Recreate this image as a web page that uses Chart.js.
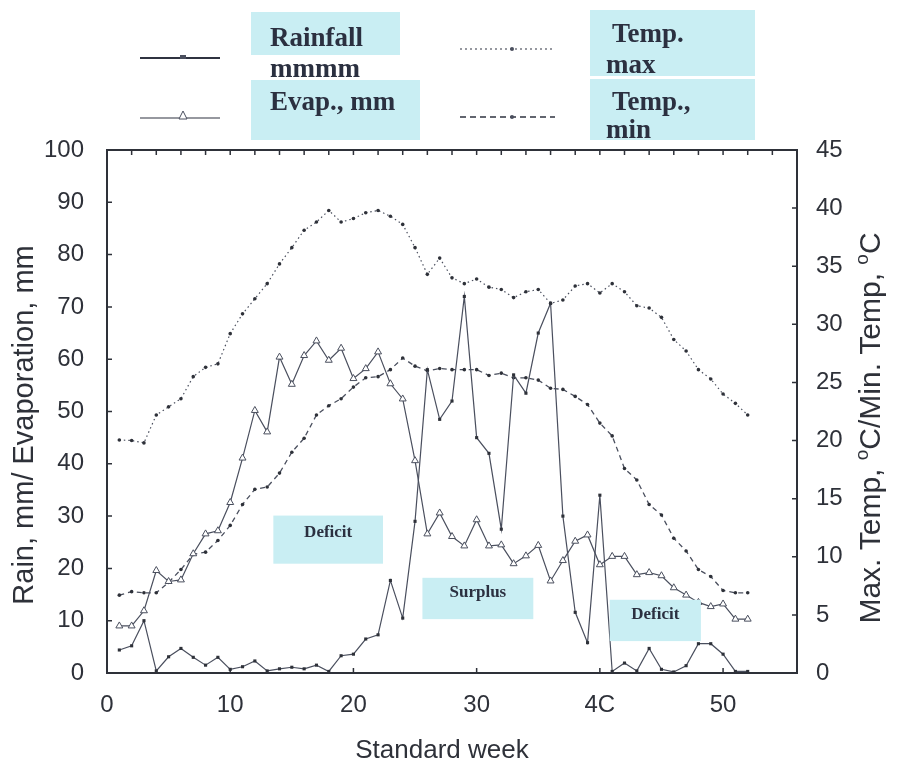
<!DOCTYPE html>
<html>
<head>
<meta charset="utf-8">
<script src="https://cdn.jsdelivr.net/npm/chart.js@4/dist/chart.umd.min.js"></script>
<style>
  body { margin: 0; background: #fff; }
  #wrap { width: 897px; height: 763px; }
</style>
</head>
<body>
<div id="wrap"><canvas id="weekChart" width="897" height="763"></canvas></div>
<script>
// standard weeks 1..52
const weeks = [1,2,3,4,5,6,7,8,9,10,11,12,13,14,15,16,17,18,19,20,21,22,23,24,25,26,
               27,28,29,30,31,32,33,34,35,36,37,38,39,40,41,42,43,44,45,46,47,48,49,50,51,52];

const rainfall = [4.4,5.2,10.0,0.4,3.1,4.7,3.0,1.5,3.0,0.7, 1.2,2.3,0.4,0.8,1.1,0.8,1.5,0.3,3.3,3.6,
                  6.5,7.3,17.7,10.5,29.0,58.0,48.5,52.0,72.0,45.0, 42.0,27.5,57.0,53.5,65.0,70.7,30.0,11.6,5.8,34.0,
                  0.3,1.9,0.4,4.7,0.7,0.2,1.4,5.6,5.6,3.6, 0.3,0.3];

const evaporation = [9.0,9.0,11.9,19.6,17.5,17.8,22.8,26.6,27.2,32.6, 41.1,50.2,46.1,60.4,55.2,60.7,63.5,59.8,62.1,56.3,
                     58.2,61.4,55.3,52.4,40.6,26.6,30.6,26.1,24.3,29.3, 24.3,24.5,20.9,22.4,24.4,17.6,21.5,25.2,26.4,20.7,
                     22.3,22.3,18.8,19.2,18.6,16.3,14.9,13.5,12.7,13.2, 10.3,10.3];

const tempMax = [20.05,20.0,19.8,22.2,22.9,23.6,25.5,26.3,26.6,29.2, 30.9,32.2,33.5,35.2,36.6,38.1,38.8,39.8,38.8,39.1,
                 39.6,39.8,39.3,38.6,36.6,34.3,35.7,34.0,33.5,33.9, 33.2,33.0,32.3,32.8,33.0,31.8,32.1,33.3,33.5,32.7,
                 33.5,32.8,31.6,31.4,30.6,28.7,27.7,26.1,25.3,24.0, 23.2,22.2];

const tempMin = [6.7,7.0,6.9,6.9,7.8,8.9,10.2,10.4,11.4,12.7, 14.5,15.8,16.0,17.2,19.0,20.2,22.2,23.0,23.6,24.6,
                 25.4,25.5,26.1,27.1,26.4,26.0,26.2,26.1,26.1,26.1, 25.6,25.8,25.4,25.4,25.2,24.5,24.4,23.8,23.1,21.5,
                 20.4,17.6,16.6,14.5,13.6,11.6,10.5,8.9,8.3,7.1, 6.9,6.9];

// x tick labels as printed (the scan shows "4C" for 40)
const xTickValues = [0, 10, 20, 30, 40, 50];
const xTickLabels = ['0', '10', '20', '30', '4C', '50'];

const legendNames = [['Rainfall', 'mmmm'], ['Evap., mm'], ['Temp.', 'max'], ['Temp.,', 'min']];
const noteLabels = ['Deficit', 'Surplus', 'Deficit'];
const xTitle = 'Standard week';
const yTitle = 'Rain, mm/ Evaporation, mm';
// right title pieces: [text, superscript?]
const y2Title = [['Max. Temp, ', false], ['o', true], ['C/Min. Temp, ', false], ['o', true], ['C', false]];

const ink = '#4a4f5e';
const axisInk = '#2e3139';
const boxFill = '#c9eef3';
const sans = '"Liberation Sans", Arial, sans-serif';
const tickFont = { family: sans, size: 24 };

const toPoints = arr => weeks.map((w, i) => ({ x: w, y: arr[i] }));

function drawMarker(ctx, kind, x, y) {
    ctx.save();
    ctx.fillStyle = ink;
    ctx.strokeStyle = ink;
    ctx.lineWidth = 1;
    if (kind === 'rect') {
        ctx.fillRect(x - 3, y - 2, 6, 4);
    } else if (kind === 'tri') {
        ctx.fillStyle = '#fff';
        ctx.beginPath();
        ctx.moveTo(x, y - 5);
        ctx.lineTo(x + 4, y + 3);
        ctx.lineTo(x - 4, y + 3);
        ctx.closePath();
        ctx.fill();
        ctx.stroke();
    } else {
        ctx.beginPath();
        ctx.arc(x, y, 2, 0, Math.PI * 2);
        ctx.fill();
    }
    ctx.restore();
}

const framePlugin = {
    id: 'frame',
    afterDatasetsDraw(chart) {
        const { ctx, chartArea: a, scales } = chart;
        const xs = scales.x, ys = scales.y;

        // annotation boxes (in week / left-axis units)
        const notes = [
            { text: noteLabels[0], x0: 13.5, x1: 22.4, y0: 30.1, y1: 20.9 },
            { text: noteLabels[1], x0: 25.6, x1: 34.6, y0: 18.2, y1: 10.3 },
            { text: noteLabels[2], x0: 40.8, x1: 48.2, y0: 14.0, y1: 6.1 }
        ];
        ctx.save();
        notes.forEach(n => {
            const l = xs.getPixelForValue(n.x0), r = xs.getPixelForValue(n.x1);
            const t = ys.getPixelForValue(n.y0), b = ys.getPixelForValue(n.y1);
            ctx.fillStyle = boxFill;
            ctx.fillRect(l, t, r - l, b - t);
            ctx.fillStyle = '#2b3040';
            ctx.font = 'bold 17px "Liberation Serif", "Times New Roman", serif';
            ctx.textAlign = 'center';
            ctx.textBaseline = 'middle';
            ctx.fillText(n.text, (l + r) / 2, t + (b - t) * 0.36);
        });
        ctx.restore();

        // frame and inward ticks
        ctx.save();
        ctx.strokeStyle = axisInk;
        ctx.lineWidth = 2;
        ctx.strokeRect(a.left, a.top, a.right - a.left, a.bottom - a.top);
        ctx.lineWidth = 1.5;
        ctx.beginPath();
        for (let v = 10; v < 100; v += 10) {
            const y = ys.getPixelForValue(v);
            ctx.moveTo(a.left, y); ctx.lineTo(a.left + 5, y);
        }
        for (let v = 5; v < 45; v += 5) {
            const y = scales.y2.getPixelForValue(v);
            ctx.moveTo(a.right, y); ctx.lineTo(a.right - 5, y);
        }
        for (let w = 10; w <= 50; w += 10) {
            const x = xs.getPixelForValue(w);
            ctx.moveTo(x, a.bottom); ctx.lineTo(x, a.bottom - 5);
        }
        for (let w = 2; w < 56; w += 2) {
            const x = xs.getPixelForValue(w);
            ctx.moveTo(x, a.top); ctx.lineTo(x, a.top + 5);
        }
        ctx.stroke();
        ctx.restore();
    },
    afterDraw(chart) {
        const { ctx } = chart;
        ctx.save();

        // axis titles
        ctx.fillStyle = axisInk;
        ctx.textBaseline = 'alphabetic';
        ctx.font = '26px ' + sans;
        ctx.textAlign = 'center';
        ctx.fillText(xTitle, 442, 758);

        ctx.save();
        ctx.font = '29px ' + sans;
        ctx.translate(33, 425);
        ctx.rotate(-Math.PI / 2);
        ctx.fillText(yTitle, 0, 0);
        ctx.restore();

        ctx.save();
        ctx.textAlign = 'left';
        const big = '30px ' + sans, small = '19px ' + sans;
        let total = 0;
        y2Title.forEach(([t, sup]) => { ctx.font = sup ? small : big; total += ctx.measureText(t).width; });
        ctx.translate(880, 428);
        ctx.rotate(-Math.PI / 2);
        let px = -total / 2;
        y2Title.forEach(([t, sup]) => {
            ctx.font = sup ? small : big;
            ctx.fillText(t, px, sup ? -12 : 0);
            px += ctx.measureText(t).width;
        });
        ctx.restore();

        // legend boxes
        ctx.fillStyle = boxFill;
        ctx.fillRect(251, 12, 149, 43);
        ctx.fillRect(251, 80, 169, 60);
        ctx.fillRect(590, 10, 165, 66);
        ctx.fillRect(590, 79, 165, 61);

        ctx.fillStyle = '#2b3040';
        ctx.font = 'bold 27px "Liberation Serif", "Times New Roman", serif';
        ctx.textBaseline = 'alphabetic';
        ctx.textAlign = 'left';
        ctx.fillText(legendNames[0][0], 270, 46);
        ctx.fillText(legendNames[0][1], 270, 77);
        ctx.fillText(legendNames[1][0], 270, 110);
        ctx.fillText(legendNames[2][0], 612, 42);
        ctx.fillText(legendNames[2][1], 606, 73);
        ctx.fillText(legendNames[3][0], 612, 110);
        ctx.fillText(legendNames[3][1], 606, 138);

        // legend line samples
        ctx.strokeStyle = '#2f3340';
        ctx.lineWidth = 2.2;
        ctx.beginPath(); ctx.moveTo(140, 58); ctx.lineTo(220, 58); ctx.stroke();
        drawMarker(ctx, 'rect', 183, 57);
        ctx.lineWidth = 1.2;
        ctx.beginPath(); ctx.moveTo(140, 118); ctx.lineTo(220, 118); ctx.stroke();
        drawMarker(ctx, 'tri', 183, 116);
        ctx.setLineDash([2, 3]);
        ctx.beginPath(); ctx.moveTo(460, 49); ctx.lineTo(555, 49); ctx.stroke();
        ctx.setLineDash([6, 4]);
        ctx.lineWidth = 1.6;
        ctx.beginPath(); ctx.moveTo(460, 117); ctx.lineTo(555, 117); ctx.stroke();
        ctx.setLineDash([]);
        drawMarker(ctx, 'dot', 512, 49);
        drawMarker(ctx, 'dot', 512, 117);
        ctx.restore();
    }
};

const ctx = document.getElementById('weekChart').getContext('2d');

new Chart(ctx, {
    type: 'line',
    data: {
        datasets: [
            {
                label: 'Rainfall mmmm',
                data: toPoints(rainfall),
                yAxisID: 'y',
                borderColor: ink,
                borderWidth: 1.2,
                pointStyle: 'rect',
                pointRadius: 2.2,
                pointBackgroundColor: axisInk,
                pointBorderWidth: 0,
                tension: 0
            },
            {
                label: 'Evap., mm',
                data: toPoints(evaporation),
                yAxisID: 'y',
                borderColor: ink,
                borderWidth: 1.2,
                pointStyle: 'triangle',
                pointRadius: 4,
                pointBackgroundColor: '#fff',
                pointBorderColor: ink,
                pointBorderWidth: 1,
                tension: 0
            },
            {
                label: 'Temp. max',
                data: toPoints(tempMax),
                yAxisID: 'y2',
                borderColor: ink,
                borderWidth: 1.2,
                borderDash: [1.5, 3],
                pointStyle: 'circle',
                pointRadius: 1.8,
                pointBackgroundColor: axisInk,
                pointBorderWidth: 0,
                tension: 0
            },
            {
                label: 'Temp., min',
                data: toPoints(tempMin),
                yAxisID: 'y2',
                borderColor: ink,
                borderWidth: 1.3,
                borderDash: [5, 4],
                pointStyle: 'circle',
                pointRadius: 1.8,
                pointBackgroundColor: axisInk,
                pointBorderWidth: 0,
                tension: 0
            }
        ]
    },
    options: {
        responsive: false,
        animation: false,
        layout: { padding: { top: 150 } },
        plugins: {
            legend: { display: false },
            tooltip: { enabled: false }
        },
        scales: {
            x: {
                type: 'linear',
                min: 0,
                max: 56,
                afterFit: s => { s.height = 90; },
                afterBuildTicks: s => { s.ticks = xTickValues.map(v => ({ value: v })); },
                grid: { display: false },
                border: { display: false },
                ticks: {
                    font: tickFont,
                    color: axisInk,
                    padding: 10,
                    maxRotation: 0,
                    callback: v => xTickLabels[xTickValues.indexOf(v)]
                }
            },
            y: {
                position: 'left',
                min: 0,
                max: 100,
                afterFit: s => { s.width = 107; },
                grid: { display: false },
                border: { display: false },
                ticks: { stepSize: 10, font: tickFont, color: axisInk, padding: 15 }
            },
            y2: {
                position: 'right',
                min: 0,
                max: 45,
                afterFit: s => { s.width = 100; },
                grid: { display: false },
                border: { display: false },
                ticks: { stepSize: 5, font: tickFont, color: axisInk, padding: 11 }
            }
        }
    },
    plugins: [framePlugin]
});
</script>
</body>
</html>
